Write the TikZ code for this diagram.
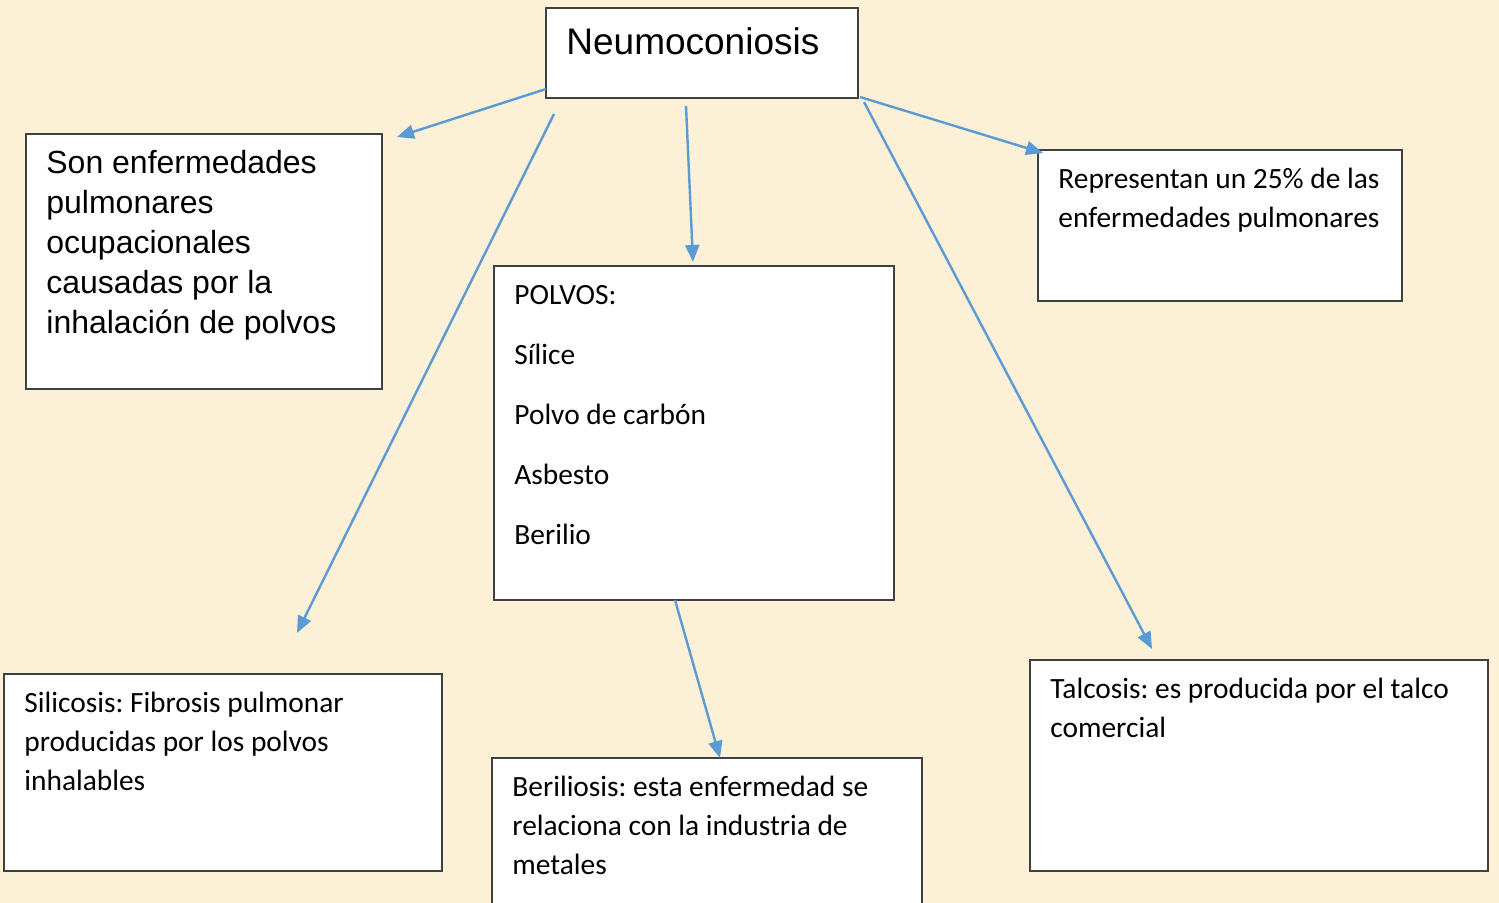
\documentclass[tikz,border=0pt]{standalone}
\usepackage{fontspec}
\setmainfont{Carlito}
\newfontfamily\arialf{Liberation Sans}
\usetikzlibrary{arrows.meta,fit}
\frenchspacing
\definecolor{bgc}{RGB}{252,240,214}
\definecolor{arrowc}{RGB}{91,155,213}
\definecolor{borderc}{RGB}{64,64,64}
\tikzset{
  box/.style={draw=borderc, line width=0.65pt, fill=white, inner sep=0pt},
  txt/.style={anchor=base west, inner sep=0pt},
  conn/.style={draw=arrowc, line width=1.2pt, -{Triangle[length=8.5pt,width=7pt]}},
}
\newcommand{\calib}[2]{\parbox[t]{#1}{\fontsize{14.7}{19.5}\selectfont #2}}
\begin{document}
\begin{tikzpicture}[x=0.5pt,y=-0.5pt]
\fill[bgc] (0,0) rectangle (1499,903);
\useasboundingbox (0,0) rectangle (1499,903);

% boxes
\node[box, fit={(546,8) (858,98)}] (neumo) {};
\node[box, fit={(26,134) (382,389)}] (def) {};
\node[box, fit={(494,266) (894,600)}] (polvos) {};
\node[box, fit={(1038,150) (1402,301)}] (porc) {};
\node[box, fit={(4,674) (442,871)}] (silic) {};
\node[box, fit={(492,758) (922,914)}] (beril) {};
\node[box, fit={(1030,660) (1488,871)}] (talc) {};

% texts
\node[txt, font=\arialf\fontsize{18.5}{22}\selectfont] (neumoT) at (566,55) {Neumoconiosis};
\node[txt] (defT) at (46,174) {\parbox[t]{340pt}{\arialf\fontsize{16}{20}\selectfont Son enfermedades\\pulmonares\\ocupacionales\\causadas por la\\inhalación de polvos}};
\node[txt] (polvosT) at (514,305) {\parbox[t]{200pt}{\fontsize{14.7}{30}\selectfont POLVOS:\\Sílice\\Polvo de carbón\\Asbesto\\Berilio}};
\node[txt] (porcT) at (1058,189) {\calib{200pt}{Representan un 25\% de las\\enfermedades pulmonares}};
\node[txt] (silicT) at (24,712) {\calib{220pt}{Silicosis: Fibrosis pulmonar\\producidas por los polvos\\inhalables}};
\node[txt] (berilT) at (512,796) {\calib{220pt}{Beriliosis: esta enfermedad se\\relaciona con la industria de\\metales}};
\node[txt] (talcT) at (1050,698) {\calib{230pt}{Talcosis: es producida por el talco\\comercial}};

% connector end points
\coordinate (a1s) at (546,89);  \coordinate (a1e) at (397,137);
\coordinate (a2s) at (554,114); \coordinate (a2e) at (297,633);
\coordinate (a3s) at (686,106); \coordinate (a3e) at (693,262);
\coordinate (a4s) at (860,97);  \coordinate (a4e) at (1043,153);
\coordinate (a5s) at (864,102); \coordinate (a5e) at (1152,649);
\coordinate (a6s) at (675,600); \coordinate (a6e) at (720,758);

\draw[conn] (a1s) -- (a1e);
\draw[conn] (a2s) -- (a2e);
\draw[conn] (a3s) -- (a3e);
\draw[conn] (a4s) -- (a4e);
\draw[conn] (a5s) -- (a5e);
\draw[conn] (a6s) -- (a6e);
\end{tikzpicture}
\end{document}
